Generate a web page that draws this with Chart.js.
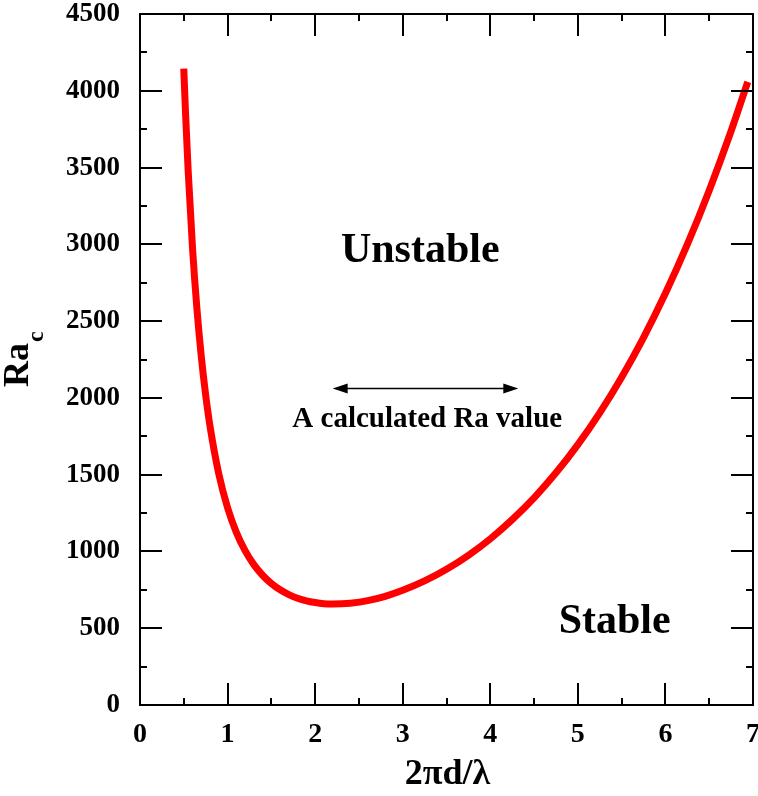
<!DOCTYPE html>
<html>
<head>
<meta charset="utf-8">
<script src="https://cdn.jsdelivr.net/npm/chart.js@4.4.1/dist/chart.umd.min.js"></script>
<style>
  html, body { margin: 0; padding: 0; background: #fff; }
  canvas { display: block; }
</style>
</head>
<body>
<canvas id="rayleigh" width="758" height="796"></canvas>
<script>
// Courbe de stabilité marginale (Ra critique en fonction du nombre d'onde)
const waveNumbers = [0.5, 0.52, 0.55, 0.6, 0.65, 0.7, 0.75, 0.8, 0.9, 1.0, 1.1, 1.2, 1.3, 1.4, 1.5, 1.6, 1.7, 1.8, 1.9,
  2.0, 2.1, 2.2, 2.3, 2.4, 2.6, 2.8, 3.0, 3.25, 3.5, 3.75, 4.0, 4.25, 4.5, 4.75, 5.0, 5.25, 5.5, 5.75, 6.0, 6.25, 6.5, 6.75, 6.94];
const criticalRa = [4145, 3855, 3479, 2974, 2580, 2269, 2018, 1814, 1504, 1284, 1124, 1005, 914, 845, 791, 750, 719, 695, 678,
  667, 660, 658, 659, 663, 680, 708, 747, 808, 884, 975, 1082, 1207, 1349, 1512, 1696, 1903, 2135, 2393, 2681, 2999, 3351, 3738, 4058];

// graduations
const xTicks = [0, 1, 2, 3, 4, 5, 6, 7];
const xMinorTicks = [0.5, 1.5, 2.5, 3.5, 4.5, 5.5, 6.5];
const yTicks = [0, 500, 1000, 1500, 2000, 2500, 3000, 3500, 4000, 4500];
const yMinorTicks = [250, 750, 1250, 1750, 2250, 2750, 3250, 3750, 4250];

// annotations (positions en coordonnées des données)
const labelUnstable = { text: 'Unstable', x: 3.2, y: 2885 };
const labelStable = { text: 'Stable', x: 5.42, y: 469 };
const labelRa = { text: 'A calculated Ra value', x: 3.28, y: 1810 };
const arrowRa = { x1: 2.2, x2: 4.32, y: 2064 };

const serif = "'Liberation Serif', 'Times New Roman', serif";

const frameAndNotes = {
  id: 'frameAndNotes',
  afterDraw(chart) {
    const ctx = chart.ctx;
    const { left, right, top, bottom } = chart.chartArea;
    const x = chart.scales.x, y = chart.scales.y;
    ctx.save();
    ctx.strokeStyle = '#000';
    ctx.fillStyle = '#000';

    // cadre
    ctx.lineWidth = 2;
    ctx.strokeRect(left, top, right - left, bottom - top);

    // graduations vers l'intérieur sur les 4 côtés
    const major = 22, minor = 7;
    ctx.beginPath();
    xTicks.forEach(v => {
      const px = Math.round(x.getPixelForValue(v));
      ctx.moveTo(px, bottom); ctx.lineTo(px, bottom - major);
      ctx.moveTo(px, top); ctx.lineTo(px, top + major);
    });
    xMinorTicks.forEach(v => {
      const px = Math.round(x.getPixelForValue(v));
      ctx.moveTo(px, bottom); ctx.lineTo(px, bottom - minor);
      ctx.moveTo(px, top); ctx.lineTo(px, top + minor);
    });
    yTicks.forEach(v => {
      const py = Math.round(y.getPixelForValue(v));
      ctx.moveTo(left, py); ctx.lineTo(left + major, py);
      ctx.moveTo(right, py); ctx.lineTo(right - major, py);
    });
    yMinorTicks.forEach(v => {
      const py = Math.round(y.getPixelForValue(v));
      ctx.moveTo(left, py); ctx.lineTo(left + minor, py);
      ctx.moveTo(right, py); ctx.lineTo(right - minor, py);
    });
    ctx.stroke();

    // textes dans le graphique
    ctx.textAlign = 'center';
    ctx.textBaseline = 'alphabetic';
    ctx.font = 'bold 42px ' + serif;
    ctx.fillText(labelUnstable.text, x.getPixelForValue(labelUnstable.x), y.getPixelForValue(labelUnstable.y));
    ctx.fillText(labelStable.text, x.getPixelForValue(labelStable.x), y.getPixelForValue(labelStable.y));
    ctx.font = 'bold 29px ' + serif;
    ctx.fillText(labelRa.text, x.getPixelForValue(labelRa.x), y.getPixelForValue(labelRa.y));

    // flèche double
    const ax1 = x.getPixelForValue(arrowRa.x1), ax2 = x.getPixelForValue(arrowRa.x2);
    const ay = Math.round(y.getPixelForValue(arrowRa.y)) + 0.5;
    const head = 15, half = 5;
    ctx.lineWidth = 1.5;
    ctx.beginPath();
    ctx.moveTo(ax1 + head - 2, ay); ctx.lineTo(ax2 - head + 2, ay);
    ctx.stroke();
    ctx.beginPath();
    ctx.moveTo(ax1, ay); ctx.lineTo(ax1 + head, ay - half); ctx.lineTo(ax1 + head, ay + half); ctx.closePath();
    ctx.moveTo(ax2, ay); ctx.lineTo(ax2 - head, ay - half); ctx.lineTo(ax2 - head, ay + half); ctx.closePath();
    ctx.fill();

    // titres des axes
    ctx.font = 'bold 36px ' + serif;
    ctx.textAlign = 'center';
    ctx.fillText('2\u03C0d/\u03BB', (left + right) / 2 + 1, 784);

    ctx.translate(28, 387);
    ctx.rotate(-Math.PI / 2);
    ctx.textAlign = 'left';
    ctx.font = 'bold 36px ' + serif;
    ctx.fillText('Ra', 0, 0);
    const w = ctx.measureText('Ra').width;
    ctx.font = 'bold 24px ' + serif;
    ctx.fillText('c', w + 1, 15);
    ctx.restore();
  }
};

new Chart(document.getElementById('rayleigh'), {
  type: 'line',
  data: {
    datasets: [{
      data: waveNumbers.map((k, i) => ({ x: k, y: criticalRa[i] })),
      borderColor: '#ff0000',
      borderWidth: 7,
      pointRadius: 0,
      cubicInterpolationMode: 'monotone',
      fill: false
    }]
  },
  options: {
    responsive: false,
    animation: false,
    devicePixelRatio: 1,
    layout: { padding: { top: 14, right: 5, left: 0, bottom: 0 } },
    plugins: { legend: { display: false }, tooltip: { enabled: false } },
    scales: {
      x: {
        type: 'linear', min: 0, max: 7,
        afterBuildTicks: s => { s.ticks = xTicks.map(v => ({ value: v })); },
        afterFit: s => { s.height = 91; s.paddingLeft = 0; s.paddingRight = 0; },
        grid: { display: false, drawTicks: false },
        border: { display: false },
        ticks: { autoSkip: false, maxRotation: 0, padding: 13, color: '#000',
          callback: v => String(v),
          font: { family: serif, size: 28, weight: 'bold' } }
      },
      y: {
        type: 'linear', min: 0, max: 4500,
        afterBuildTicks: s => { s.ticks = yTicks.map(v => ({ value: v })); },
        afterFit: s => { s.width = 140; s.paddingTop = 0; s.paddingBottom = 0; },
        grid: { display: false, drawTicks: false },
        border: { display: false },
        ticks: { autoSkip: false, padding: 20, color: '#000',
          callback: v => String(v),
          font: { family: serif, size: 27, weight: 'bold' } }
      }
    }
  },
  plugins: [frameAndNotes]
});
</script>
</body>
</html>
